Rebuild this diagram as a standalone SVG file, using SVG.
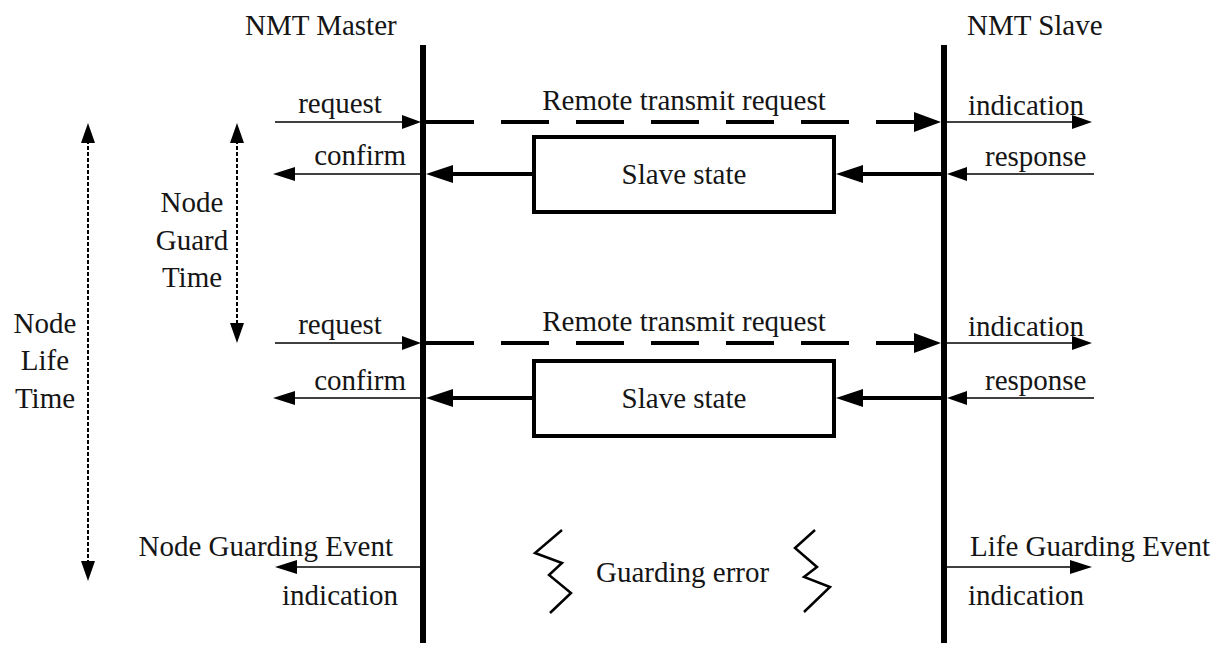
<svg xmlns="http://www.w3.org/2000/svg" width="1221" height="645" viewBox="0 0 1221 645">
<style>
text{font-family:"Liberation Serif","Times New Roman",serif;font-size:29px;fill:#151515}
.life{stroke:#000;stroke-width:6;fill:none}
.thin{stroke:#000;stroke-width:1.5;fill:none}
.thick{stroke:#000;stroke-width:4;fill:none}
.dash{stroke:#000;stroke-width:4;fill:none;stroke-dasharray:48 27}
.dot{stroke:#000;stroke-width:2;fill:none;stroke-dasharray:4 2}
.box{stroke:#000;stroke-width:4;fill:#fff}
.zig{stroke:#000;stroke-width:2.5;fill:none;stroke-linejoin:miter}
.head{fill:#000}
</style>
<rect width="1221" height="645" fill="#fff"/>

<g id="master">
  <line class="life" x1="423" y1="45" x2="423" y2="643"/>
  <text x="245" y="35">NMT Master</text>
</g>
<g id="slave">
  <line class="life" x1="944" y1="45" x2="944" y2="643"/>
  <text x="967" y="35">NMT Slave</text>
</g>

<g id="slave-state-1">
  <rect class="box" x="534" y="137" width="300" height="75"/>
  <text x="684" y="184" text-anchor="middle">Slave state</text>
</g>
<g id="slave-state-2">
  <rect class="box" x="534" y="361" width="300" height="75"/>
  <text x="684" y="408" text-anchor="middle">Slave state</text>
</g>

<g id="node-guard-time">
  <text x="192" y="212" text-anchor="middle">Node</text>
  <text x="192" y="250" text-anchor="middle">Guard</text>
  <text x="192" y="287" text-anchor="middle">Time</text>
</g>
<g id="node-life-time">
  <text x="45" y="333" text-anchor="middle">Node</text>
  <text x="45" y="370" text-anchor="middle">Life</text>
  <text x="45" y="408" text-anchor="middle">Time</text>
</g>

<g id="guarding-error">
  <polyline class="zig" points="562,530 535,553 562,563 549,575 571,593 550,613"/>
  <text x="596" y="582">Guarding error</text>
  <polyline class="zig" points="815,530 795,548 817,567 804,577 830,587 804,612"/>
</g>

<g id="connectors">
  <!-- cycle 1 -->
  <line class="thin" x1="275" y1="122" x2="404" y2="122"/>
  <polygon class="head" points="421,122 402,115 402,129"/>
  <text x="340" y="113" text-anchor="middle">request</text>

  <line class="dash" x1="426" y1="122" x2="916" y2="122"/>
  <polygon class="head" points="941,122 914,112 914,132"/>
  <text x="684" y="110" text-anchor="middle">Remote transmit request</text>

  <line class="thin" x1="944" y1="122" x2="1074" y2="122"/>
  <polygon class="head" points="1092,122 1072,115 1072,129"/>
  <text x="968" y="115">indication</text>

  <line class="thin" x1="1094" y1="174" x2="964" y2="174"/>
  <polygon class="head" points="947,174 967,167 967,181"/>
  <text x="985" y="166">response</text>

  <line class="thick" x1="941" y1="174" x2="860" y2="174"/>
  <polygon class="head" points="836,174 863,165 863,183"/>

  <line class="thick" x1="532" y1="174" x2="450" y2="174"/>
  <polygon class="head" points="426,174 453,165 453,183"/>

  <line class="thin" x1="423" y1="174" x2="293" y2="174"/>
  <polygon class="head" points="273,174 295,167 295,181"/>
  <text x="406" y="165" text-anchor="end">confirm</text>

  <!-- cycle 2 -->
  <line class="thin" x1="275" y1="343" x2="404" y2="343"/>
  <polygon class="head" points="421,343 402,336 402,350"/>
  <text x="340" y="334" text-anchor="middle">request</text>

  <line class="dash" x1="426" y1="343" x2="916" y2="343"/>
  <polygon class="head" points="941,343 914,333 914,353"/>
  <text x="684" y="331" text-anchor="middle">Remote transmit request</text>

  <line class="thin" x1="944" y1="343" x2="1074" y2="343"/>
  <polygon class="head" points="1092,343 1072,336 1072,350"/>
  <text x="968" y="336">indication</text>

  <line class="thin" x1="1094" y1="398" x2="964" y2="398"/>
  <polygon class="head" points="947,398 967,391 967,405"/>
  <text x="985" y="390">response</text>

  <line class="thick" x1="941" y1="398" x2="860" y2="398"/>
  <polygon class="head" points="836,398 863,389 863,407"/>

  <line class="thick" x1="532" y1="398" x2="450" y2="398"/>
  <polygon class="head" points="426,398 453,389 453,407"/>

  <line class="thin" x1="423" y1="398" x2="293" y2="398"/>
  <polygon class="head" points="273,398 295,391 295,405"/>
  <text x="406" y="390" text-anchor="end">confirm</text>

  <!-- guard / life time spans -->
  <line class="dot" x1="237" y1="140" x2="237" y2="326"/>
  <polygon class="head" points="237,123 230,143 244,143"/>
  <polygon class="head" points="237,343 230,323 244,323"/>

  <line class="dot" x1="88" y1="140" x2="88" y2="564"/>
  <polygon class="head" points="88,123 81,143 95,143"/>
  <polygon class="head" points="88,581 81,561 95,561"/>

  <!-- guarding events -->
  <line class="thin" x1="423" y1="567" x2="295" y2="567"/>
  <polygon class="head" points="275,567 297,560 297,574"/>
  <text x="393" y="556" text-anchor="end">Node Guarding Event</text>
  <text x="398" y="605" text-anchor="end">indication</text>

  <line class="thin" x1="944" y1="567" x2="1072" y2="567"/>
  <polygon class="head" points="1092,567 1070,560 1070,574"/>
  <text x="970" y="556">Life Guarding Event</text>
  <text x="968" y="605">indication</text>
</g>
</svg>
